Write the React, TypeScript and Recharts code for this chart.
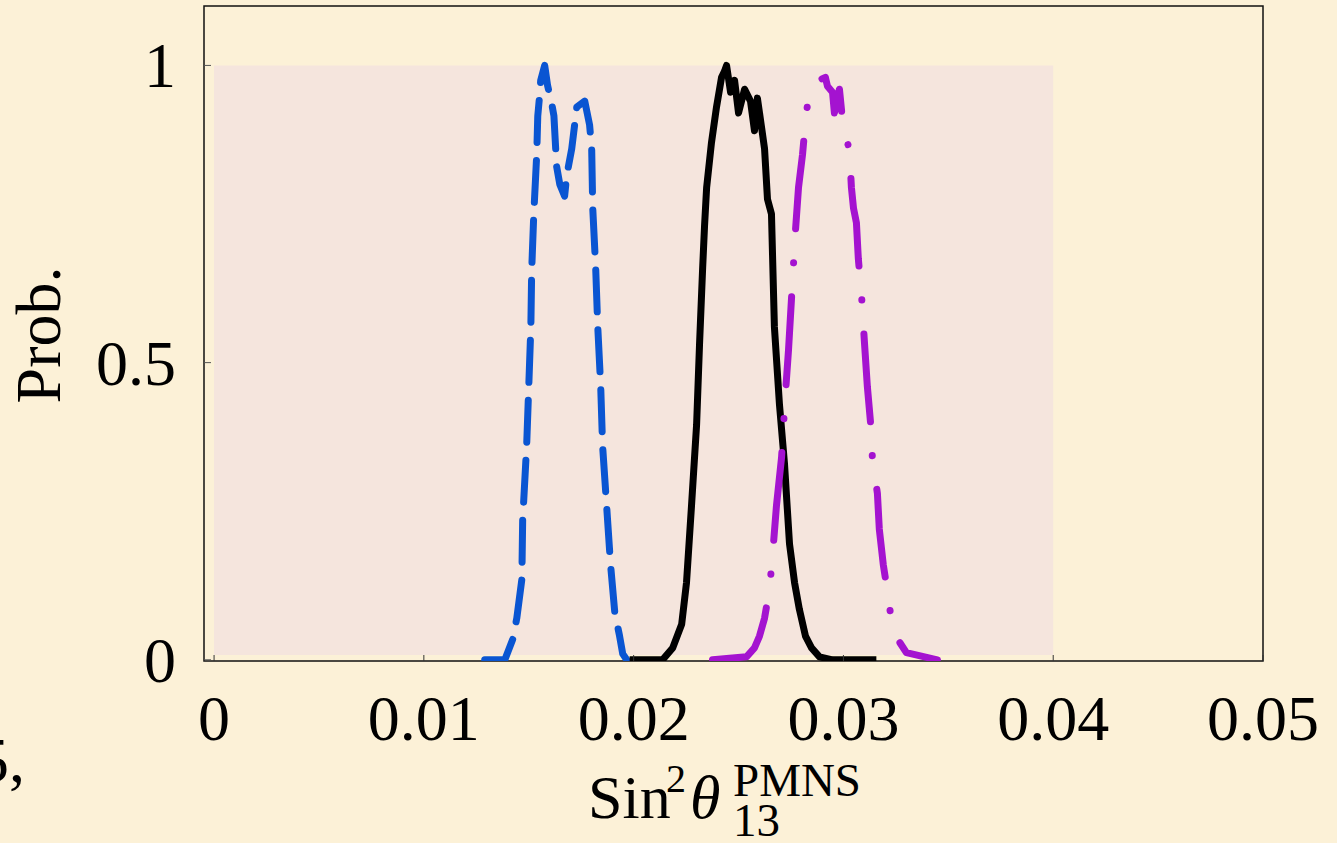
import { LineChart, Line, XAxis, YAxis, ReferenceArea } from "recharts"

// theta13 posterior curves
const blueX = [0.0129, 0.01386, 0.01424, 0.01443, 0.01467, 0.01471, 0.0149, 0.015, 0.0151, 0.01514, 0.01524, 0.01538, 0.01543, 0.01552, 0.01557, 0.01576, 0.0159, 0.0161, 0.0162, 0.01633, 0.01648, 0.01671, 0.01681, 0.01705, 0.01729, 0.01767, 0.0179, 0.018, 0.01805, 0.01819, 0.01829, 0.01843, 0.01852, 0.01871, 0.0189, 0.0191, 0.01933, 0.01948, 0.01967]
const blueY = [0, 0, 0.035, 0.07, 0.135, 0.235, 0.36, 0.46, 0.56, 0.655, 0.75, 0.85, 0.915, 0.95, 0.975, 1.0, 0.966, 0.935, 0.915, 0.83, 0.8, 0.78, 0.815, 0.86, 0.93, 0.94, 0.9, 0.86, 0.76, 0.66, 0.56, 0.46, 0.36, 0.26, 0.16, 0.08, 0.04, 0.01, 0]

const blackX = [0.01981, 0.02138, 0.02186, 0.02229, 0.02252, 0.02276, 0.023, 0.02314, 0.02329, 0.02338, 0.02348, 0.02371, 0.02395, 0.02419, 0.02433, 0.02443, 0.02462, 0.02481, 0.025, 0.02529, 0.02557, 0.02576, 0.0259, 0.0261, 0.02624, 0.02638, 0.02657, 0.02671, 0.02695, 0.02719, 0.02743, 0.02767, 0.0279, 0.02819, 0.02848, 0.02886, 0.02948, 0.03157]
const blackY = [0, 0, 0.02, 0.06, 0.13, 0.26, 0.395, 0.53, 0.66, 0.73, 0.795, 0.87, 0.93, 0.98, 0.99, 1.0, 0.955, 0.975, 0.92, 0.96, 0.94, 0.89, 0.945, 0.895, 0.86, 0.775, 0.75, 0.56, 0.43, 0.33, 0.195, 0.13, 0.085, 0.04, 0.02, 0.005, 0, 0]

const purpleX = [0.02376, 0.02538, 0.02576, 0.026, 0.02624, 0.02648, 0.02662, 0.02681, 0.02705, 0.02724, 0.02738, 0.02757, 0.02771, 0.02786, 0.02805, 0.02819, 0.02829, 0.02848, 0.02862, 0.02883, 0.02914, 0.02924, 0.02948, 0.02957, 0.02967, 0.02981, 0.02995, 0.03029, 0.03038, 0.03048, 0.03062, 0.03071, 0.03086, 0.031, 0.03114, 0.03129, 0.03138, 0.03162, 0.03171, 0.0319, 0.0321, 0.03233, 0.03267, 0.033, 0.03448]
const purpleY = [0, 0.005, 0.02, 0.04, 0.07, 0.12, 0.175, 0.26, 0.34, 0.45, 0.52, 0.635, 0.72, 0.795, 0.85, 0.905, 0.935, 0.96, 0.97, 0.975, 0.98, 0.965, 0.955, 0.92, 0.94, 0.96, 0.91, 0.855, 0.795, 0.76, 0.735, 0.675, 0.615, 0.535, 0.46, 0.4, 0.34, 0.28, 0.22, 0.16, 0.115, 0.055, 0.03, 0.012, 0]

const xTicks = [0, 0.01, 0.02, 0.03, 0.04, 0.05]
const xTickLabels = ["0", "0.01", "0.02", "0.03", "0.04", "0.05"]
const yTicks = [0, 0.5, 1]
const yTickLabels = ["0", "0.5", "1"]

const toPoints = (xs: number[], ys: number[]) => xs.map((x, i) => ({ x, y: ys[i] }))

const FONT = "'Liberation Serif', 'Times New Roman', serif"

const XTick = (props: any) => {
  const { x, y, payload } = props
  const i = xTicks.indexOf(payload.value)
  return (
    <g>
      <line x1={x} x2={x} y1={y} y2={y - 6} stroke="#333" strokeWidth={1} />
      <text x={x} y={y + 79} textAnchor="middle" fontSize={64} fontFamily={FONT} fill="#000">
        {xTickLabels[i]}
      </text>
    </g>
  )
}

const YTick = (props: any) => {
  const { x, y, payload } = props
  const i = yTicks.indexOf(payload.value)
  return (
    <g>
      <line x1={x} x2={x + 7} y1={y} y2={y} stroke="#555" strokeWidth={1} />
      <text x={x - 28} y={y + 22} textAnchor="end" fontSize={64} fontFamily={FONT} fill="#000">
        {yTickLabels[i]}
      </text>
    </g>
  )
}

export default function App() {
  return (
    <div style={{ position: "absolute", left: 0, top: 0, width: 1337, height: 843, background: "#fcf1d7", overflow: "hidden" }}>
      <LineChart width={1337} height={843} margin={{ top: 6, right: 74, bottom: 0, left: 0 }}>
        <XAxis
          dataKey="x"
          type="number"
          domain={[-0.00048, 0.05]}
          ticks={xTicks}
          allowDataOverflow
          height={182}
          axisLine={false}
          tickLine={false}
          tickSize={0}
          tickMargin={0}
          tick={<XTick />}
        />
        <YAxis
          type="number"
          domain={[-0.002, 1.1]}
          ticks={yTicks}
          allowDataOverflow
          width={204}
          axisLine={false}
          tickLine={false}
          tickSize={0}
          tickMargin={0}
          tick={<YTick />}
        />
        <ReferenceArea x1={0} x2={0.04} y1={0.008} y2={1} fill="#f5e5dd" fillOpacity={1} stroke="none" />
        <Line data={toPoints(blueX, blueY)} dataKey="y" type="linear" stroke="#0a55d2" strokeWidth={7} strokeDasharray="42 18" strokeLinecap="round" strokeLinejoin="round" dot={false} isAnimationActive={false} />
        <Line data={toPoints(blackX, blackY)} dataKey="y" type="linear" stroke="#000" strokeWidth={7} strokeLinejoin="round" dot={false} isAnimationActive={false} />
        <Line data={toPoints(purpleX, purpleY)} dataKey="y" type="linear" stroke="#a413d0" strokeWidth={7} strokeDasharray="88 34 0.1 34" strokeLinecap="round" strokeLinejoin="round" dot={false} isAnimationActive={false} />
        <ReferenceArea x1={-0.00048} x2={0.05} y1={-0.002} y2={1.1} fill="none" stroke="#111" strokeWidth={1.5} />
      </LineChart>
      <svg width={1337} height={843} style={{ position: "absolute", left: 0, top: 0, pointerEvents: "none" }}>
        <text transform="translate(60,335) rotate(-90)" textAnchor="middle" fontSize={64} fontFamily={FONT} fill="#000">Prob.</text>
        <text x={588} y={818} fontSize={62} fontFamily={FONT} fill="#000">Sin</text>
        <text x={666} y={792} fontSize={40} fontFamily={FONT} fill="#000">2</text>
        <text x={690} y={818} fontSize={62} fontFamily={FONT} fontStyle="italic" fill="#000">θ</text>
        <text x={733} y={796} fontSize={47} fontFamily={FONT} fill="#000">PMNS</text>
        <text x={733} y={836} fontSize={47} fontFamily={FONT} fill="#000">13</text>
        <text x={-23} y={782} fontSize={64} fontFamily={FONT} fill="#000">5,</text>
      </svg>
    </div>
  )
}
